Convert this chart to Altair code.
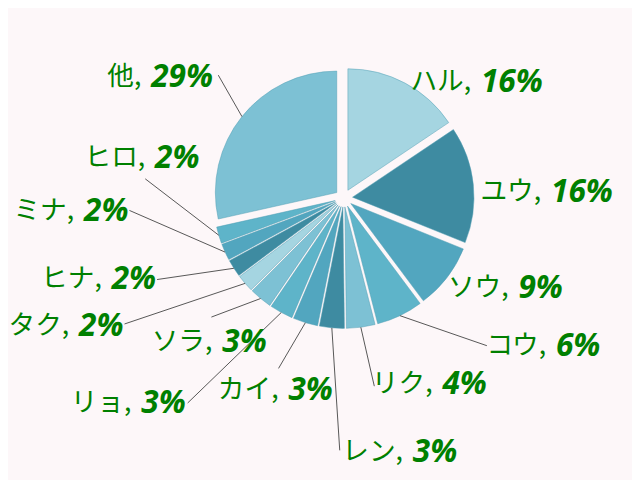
import altair as alt
import pandas as pd
import numpy as np

# ---- data ----
names = ["ハル", "ユウ", "ソウ", "コウ", "リク", "レン", "カイ", "リョ", "ソラ", "タク", "ヒナ", "ミナ", "ヒロ", "他"]
values = [15.6, 15.5, 8.7, 6.2, 3.8, 3.3, 3.3, 3.1, 3.0, 2.3, 2.3, 2.2, 2.2, 28.5]
pct_labels = ["16%", "16%", "9%", "6%", "4%", "3%", "3%", "3%", "3%", "2%", "2%", "2%", "2%", "29%"]

# ---- style / layout ----
colors = ["#a5d5e1", "#3e8ba1", "#52a6bf", "#5eb4c9", "#7dc1d4", "#3e8ba1", "#52a6bf",
          "#5eb4c9", "#7dc1d4", "#a5d5e1", "#3e8ba1", "#52a6bf", "#5eb4c9", "#7dc1d4"]
RADIUS = 123
EXPLODE = 9
# label anchor (split point between name and percent), offsets from pie centre in px
label_dx = [139, 210, 177, 215, 100, 70, -56, -205, -123, -268, -235, -263, -191, -195]
label_dy = [-117.5, -6.5, 91.5, 149.5, 188.5, 257.5, 194.5, 207.5, 145.5, 129.5, 82.5, 13.5, -40.5, -122.5]
# leader line end points (None = no leader)
leader_dx = [None, None, None, 145, 31, -4, -66, -158, -134, -222, -189, -217, -201, -127]
leader_dy = [None, None, None, 149.5, 190.5, 255.5, 172.5, 207.5, 120.5, 127.5, 82.5, 12.5, -19.5, -124.5]

W, H = 632, 472
CX, CY = 340, 189.5  # pie centre inside the plot area

total = float(sum(values))
cum = np.cumsum(values)
t0 = np.concatenate([[0.0], cum[:-1]])
t1 = cum
mid = (t0 + t1) / 2 / total * 2 * np.pi

df = pd.DataFrame({
    "name": names,
    "value": values,
    "t0": t0,
    "t1": t1,
    "cx": EXPLODE * np.sin(mid),
    "cy": -EXPLODE * np.cos(mid),
    "sx": (RADIUS + EXPLODE) * np.sin(mid),
    "sy": -(RADIUS + EXPLODE) * np.cos(mid),
    "lx": label_dx,
    "ly": label_dy,
    "namec": [n + "," for n in names],
    "pct": pct_labels,
})

lead = df[[d is not None for d in leader_dx]].copy()
lead["ex"] = [d for d in leader_dx if d is not None]
lead["ey"] = [d for d in leader_dy if d is not None]

xs = alt.Scale(domain=[-CX, W - CX], nice=False, zero=False)
ys = alt.Scale(domain=[-CY, H - CY], nice=False, zero=False, reverse=True)

arcs = alt.Chart(df).mark_arc(
    radius=RADIUS, stroke="#4f9db3", strokeWidth=0.8, strokeOpacity=0.6
).encode(
    x=alt.X("cx:Q", scale=xs, axis=None),
    y=alt.Y("cy:Q", scale=ys, axis=None),
    theta=alt.Theta("t0:Q", scale=alt.Scale(domain=[0, total], range=[0, 2 * np.pi])),
    theta2="t1:Q",
    color=alt.Color("name:N", scale=alt.Scale(domain=names, range=colors), legend=None),
)

leaders = alt.Chart(lead).mark_rule(color="#555555", strokeWidth=1).encode(
    x=alt.X("sx:Q", scale=xs, axis=None),
    y=alt.Y("sy:Q", scale=ys, axis=None),
    x2="ex:Q",
    y2="ey:Q",
)

name_text = alt.Chart(df).mark_text(
    align="right", baseline="middle", dx=-10, font="Noto Sans CJK JP",
    fontSize=27, color="#008000"
).encode(
    x=alt.X("lx:Q", scale=xs, axis=None),
    y=alt.Y("ly:Q", scale=ys, axis=None),
    text="namec:N",
)

pct_text = alt.Chart(df).mark_text(
    align="left", baseline="middle", font="Noto Sans", fontStyle="italic",
    fontWeight="bold", fontSize=32, color="#008000"
).encode(
    x=alt.X("lx:Q", scale=xs, axis=None),
    y=alt.Y("ly:Q", scale=ys, axis=None),
    text="pct:N",
)

chart = alt.layer(arcs, leaders, name_text, pct_text).properties(
    width=W, height=H, padding=0, background="#fdf7f9",
    autosize=alt.AutoSizeParams(type="none"),
).configure_view(strokeWidth=0)

chart.save("out.html", embed_options={"renderer": "svg", "actions": False})
